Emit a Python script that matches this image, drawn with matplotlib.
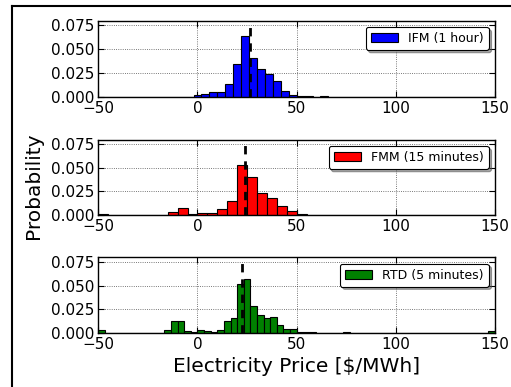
import numpy as np
import matplotlib
matplotlib.use("Agg")
import matplotlib.pyplot as plt
from matplotlib.lines import Line2D

# ----- data: probability density per bin -----
ifm_edges = np.linspace(-50, 150, 51)     # 4 $/MWh bins
ifm_density = np.zeros(50)
ifm_density[12:32] = [0.0021, 0.0031, 0.0052, 0.0049, 0.0132, 0.0344, 0.0642,
                      0.0406, 0.0288, 0.0240, 0.0170, 0.0059, 0.0024, 0.0006,
                      0.0009, 0.0002, 0.0004, 0.0001, 0.0001, 0.0003]

fmm_edges = np.linspace(-50, 150, 41)     # 5 $/MWh bins
fmm_density = np.zeros(40)
fmm_density[0] = 0.0014
fmm_density[6:22] = [0.0005, 0.0035, 0.0070, 0.0014, 0.0025, 0.0018, 0.0067,
                     0.0144, 0.0528, 0.0405, 0.0239, 0.0183, 0.0092, 0.0045,
                     0.0014, 0.0002]

rtd_edges = np.linspace(-50, 150, 61)     # 3.33 $/MWh bins
rtd_density = np.zeros(60)
rtd_density[0] = 0.0025
rtd_density[10:36] = [0.0032, 0.0123, 0.0123, 0.0021, 0.0007, 0.0028, 0.0021,
                      0.0007, 0.0028, 0.0120, 0.0155, 0.0514, 0.0574, 0.0282,
                      0.0187, 0.0151, 0.0165, 0.0081, 0.0039, 0.0042, 0.0011,
                      0.0003, 0.0003, 0.0002, 0.0002, 0.0002]
rtd_density[37] = 0.0006
rtd_density[45:59] = 0.0002
rtd_density[59] = 0.0015

means = [26.6, 24.1, 22.6]
labels = ["IFM (1 hour)", "FMM (15 minutes)", "RTD (5 minutes)"]
colors = ["b", "r", "g"]
edges_list = [ifm_edges, fmm_edges, rtd_edges]
density_list = [ifm_density, fmm_density, rtd_density]

W, H = 511, 387
fig = plt.figure(figsize=(W / 100, H / 100), dpi=100, facecolor="white")

# axes boxes in pixels (top, bottom)
rows = [(20.7, 96.8), (139.7, 215.0), (257.3, 332.7)]
left, right = 98.3, 495.0

for (top, bot), edges, dens, m, lab, c in zip(rows, edges_list, density_list,
                                              means, labels, colors):
    ax = fig.add_axes([left / W, 1 - bot / H, (right - left) / W, (bot - top) / H])
    ax.bar(edges[:-1], dens, width=np.diff(edges), align="edge", color=c,
           edgecolor="k", linewidth=0.8, label=lab, zorder=2)
    ax.axvline(m, color="k", linestyle="--", linewidth=2, dashes=(3, 2.5),
               zorder=4)
    ax.set_xlim(-50, 150)
    ax.set_ylim(0, 0.08)
    ax.set_xticks([-50, 0, 50, 100, 150])
    ax.set_yticks([0, 0.025, 0.05, 0.075])
    ax.set_yticklabels(["0.000", "0.025", "0.050", "0.075"])
    ax.grid(True, color="k", linestyle=":", linewidth=0.6, alpha=0.7, zorder=3)
    ax.tick_params(direction="in", top=True, right=True, length=4, width=0.8)
    ax.tick_params(axis="x", labelsize=11, pad=3)
    ax.tick_params(axis="y", labelsize=11, pad=3)
    for s in ax.spines.values():
        s.set_linewidth(1.0)
    leg = ax.legend(loc="upper right", fontsize=9, fancybox=True, shadow=True,
                    handlelength=2.2, borderaxespad=0.5)
    leg.get_frame().set_edgecolor("k")
    leg.get_frame().set_linewidth(0.8)
    leg.set_zorder(6)

fig.text(33.5 / W, 1 - 186 / H, "Probability", rotation=90, fontsize=14.5,
         ha="center", va="center")
fig.text(296.7 / W, 1 - 366 / H, "Electricity Price [$/MWh]", fontsize=14.5,
         ha="center", va="center")

# frame around the figure
fig.add_artist(Line2D([12 / W, 12 / W], [0, 1 - 5.5 / H], color="k", lw=1.5,
                      transform=fig.transFigure))
fig.add_artist(Line2D([12 / W, 1], [1 - 5.5 / H, 1 - 5.5 / H], color="k", lw=1.5,
                      transform=fig.transFigure))

fig.savefig("out.png", dpi=100, facecolor="white")
